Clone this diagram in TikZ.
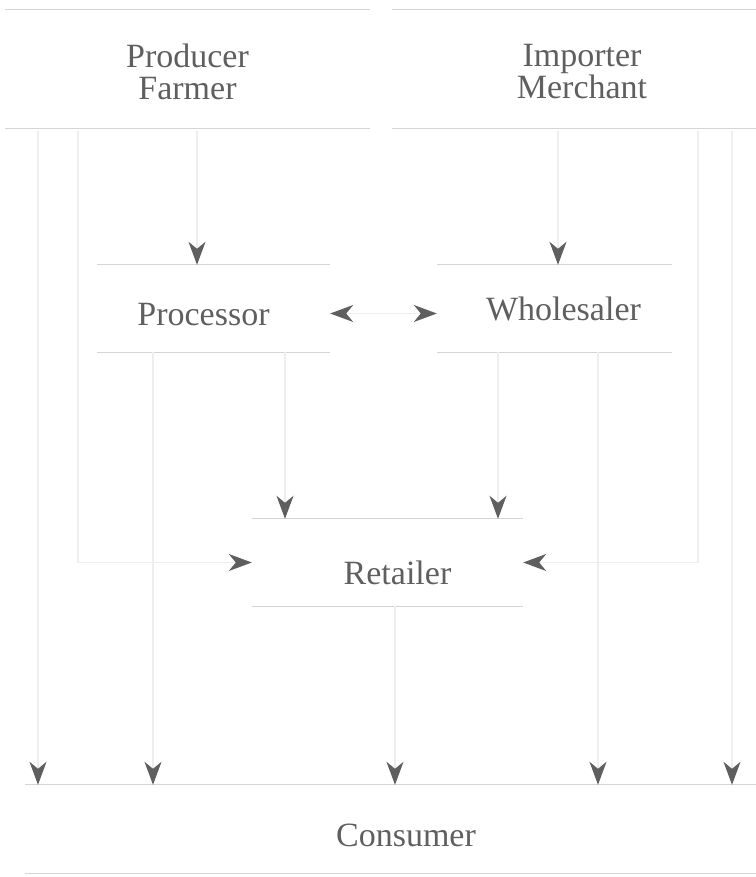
\documentclass[tikz,border=0pt]{standalone}
\usepackage{fontspec}
\setmainfont{Liberation Serif}
\usetikzlibrary{arrows.meta,positioning,calc}
\definecolor{inkgray}{RGB}{95,95,95}
\definecolor{rulegray}{RGB}{212,212,212}
\definecolor{linkgray}{RGB}{238,238,238}
\tikzset{vtip/.tip={Stealth[length=23pt,width=17pt,inset=7pt,color=inkgray]}}

\begin{document}
\begin{tikzpicture}[x=1pt, y=-1pt,
    stage/.style={inner sep=0pt, text=inkgray, align=center, font=\fontsize{34}{32}\selectfont},
    rule/.style={draw=rulegray, line width=1.2pt},
    flow/.style={draw=linkgray, line width=1.2pt, -vtip}]
    \useasboundingbox (0,0) rectangle (755,877);

    \node[stage, minimum width=365pt, minimum height=118pt] (prod) at (187.5,72) {Producer\\Farmer};
    \node[stage, minimum width=380pt, minimum height=118pt] (imp) at (582,72) {Importer\\Merchant};
    \node[stage, minimum width=233pt, minimum height=87pt, text height=33pt, text depth=0pt] (proc) at (213.5,308.5) {Processor\hspace*{20pt}};
    \node[stage, minimum width=235pt, minimum height=87pt] (whole) at (554.5,308.5) {\hspace*{18pt}Wholesaler};
    \node[stage, minimum width=271pt, minimum height=87pt, text height=43pt, text depth=0pt] (ret) at (387.5,562.5) {\hspace*{20pt}Retailer};
    \node[stage, minimum width=762pt, minimum height=88pt, text height=35pt, text depth=0pt] (cons) at (406,829) {Consumer};

    \foreach \n in {proc,whole,ret,cons} {
        \draw[rule] (\n.north west) -- (\n.north east);
        \draw[rule] (\n.south west) -- (\n.south east);
    }
    \foreach \n in {prod,imp} {
        \draw[rule] ([yshift=3pt]\n.north west) -- ([yshift=3pt]\n.north east);
        \draw[rule] ([yshift=3pt]\n.south west) -- ([yshift=3pt]\n.south east);
    }

    \coordinate (xa) at (38,0);
    \coordinate (xb) at (78,0);
    \coordinate (xc) at (153,0);
    \coordinate (xd) at (197,0);
    \coordinate (xe) at (285,0);
    \coordinate (xf) at (395,0);
    \coordinate (xg) at (498,0);
    \coordinate (xh) at (558,0);
    \coordinate (xi) at (598,0);
    \coordinate (xj) at (698,0);
    \coordinate (xk) at (732,0);

    \draw[flow] (prod.south -| xd) -- (proc.north -| xd);
    \draw[flow] (imp.south -| xh) -- (whole.north -| xh);
    \draw[flow, vtip-vtip] ([yshift=-5pt]proc.east) -- ([yshift=-5pt]whole.west);
    \draw[flow] (proc.south -| xe) -- (ret.north -| xe);
    \draw[flow] (whole.south -| xg) -- (ret.north -| xg);
    \draw[flow] (prod.south -| xb) |- (ret.west);
    \draw[flow] (imp.south -| xj) |- (ret.east);
    \draw[flow] (prod.south -| xa) -- (cons.north -| xa);
    \draw[flow] (proc.south -| xc) -- (cons.north -| xc);
    \draw[flow] (ret.south -| xf) -- (cons.north -| xf);
    \draw[flow] (whole.south -| xi) -- (cons.north -| xi);
    \draw[flow] (imp.south -| xk) -- (cons.north -| xk);
\end{tikzpicture}
\end{document}
